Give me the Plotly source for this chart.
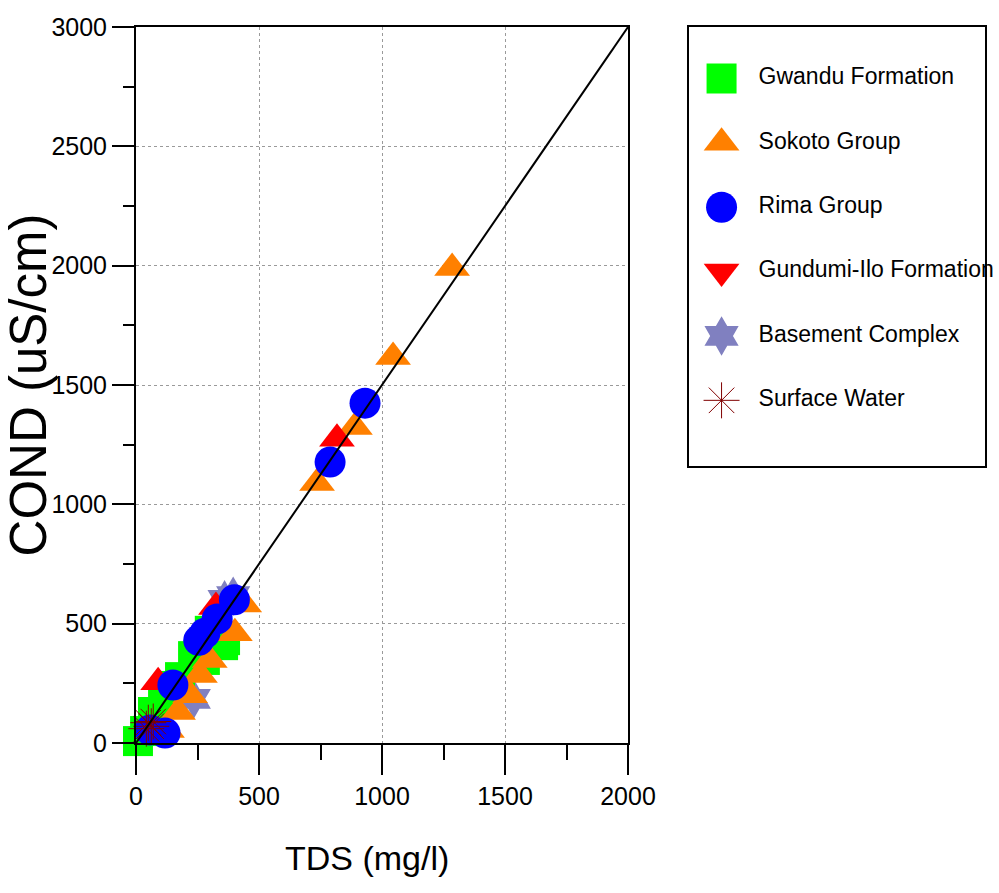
import plotly.graph_objects as go

# ---------------- data ----------------
series_names = ["Gwandu Formation", "Sokoto Group", "Rima Group",
                "Gundumi-Ilo Formation", "Basement Complex", "Surface Water"]

gwandu_tds = [4, 8, 37, 69, 110, 142, 179, 232, 280, 300, 354, 362]
gwandu_cond = [-8, 8, 50, 130, 172, 239, 276, 364, 348, 470, 410, 431]

sokoto_tds = [1285, 1045, 890, 736, 440, 402, 300, 260, 220, 171, 126, 57, 16]
sokoto_cond = [1990, 1617, 1324, 1089, 580, 460, 348, 285, 200, 130, 54, -29, -38]

rima_tds = [931, 789, 400, 330, 280, 255, 150, 57, 118]
rima_cond = [1424, 1177, 600, 520, 460, 430, 243, 54, 42]

gundumi_tds = [817, 325, 90]
gundumi_cond = [1275, 570, 255]

basement_tds = [395, 360, 235]
basement_cond = [615, 600, 185]

surface_tds = [50, 62, 42, 70]
surface_cond = [85, 70, 60, 90]

line_tds = [0, 2000]
line_cond = [0, 3000]

x_ticks = [0, 500, 1000, 1500, 2000]
y_ticks = [0, 500, 1000, 1500, 2000, 2500, 3000]

# ---------------- styling ----------------
FONT = "Liberation Sans, Arial, sans-serif"

colors = ["#00FF00", "#FF8000", "#0000FF", "#FF0000", "#8080C0", "#800000"]
plot_symbols = ["square", "triangle-up", "circle", "triangle-up", "hexagram", "asterisk-open"]
key_symbols = ["square", "triangle-up", "circle", "triangle-down", "hexagram", "asterisk-open"]
sizes = [30, 31, 31, 31, 30, 30]

data = {
    0: (gwandu_tds, gwandu_cond),
    1: (sokoto_tds, sokoto_cond),
    2: (rima_tds, rima_cond),
    3: (gundumi_tds, gundumi_cond),
    4: (basement_tds, basement_cond),
    5: (surface_tds, surface_cond),
}
draw_order = [4, 0, 1, 3, 2, 5]

fig = go.Figure()


def marker_for(i, symbol):
    line = dict(width=1, color=colors[i]) if "open" in symbol else dict(width=0)
    return dict(symbol=symbol, color=colors[i], size=sizes[i], line=line)


for i in draw_order:
    x, y = data[i]
    fig.add_trace(go.Scatter(x=x, y=y, mode="markers", name=series_names[i],
                             marker=marker_for(i, plot_symbols[i]),
                             cliponaxis=False, showlegend=False,
                             xaxis="x", yaxis="y"))

fig.add_trace(go.Scatter(x=line_tds, y=line_cond, mode="lines",
                         line=dict(color="black", width=2), showlegend=False,
                         hoverinfo="skip", xaxis="x", yaxis="y"))

# ---------------- key (legend box) drawn in its own small axes ----------------
rows = list(range(len(series_names)))
for i in rows:
    fig.add_trace(go.Scatter(x=[0.11], y=[i], mode="markers", name=series_names[i],
                             marker=marker_for(i, key_symbols[i]),
                             showlegend=False, hoverinfo="skip",
                             xaxis="x2", yaxis="y2"))
fig.add_trace(go.Scatter(x=[0.235] * len(rows), y=rows, mode="text",
                         text=series_names, textposition="middle right",
                         textfont=dict(family=FONT, size=23, color="black"),
                         cliponaxis=False, showlegend=False, hoverinfo="skip",
                         xaxis="x2", yaxis="y2"))

W_PLOT = 999 - 136 - 14
main_frac = 492 / W_PLOT

axis_common = dict(
    showline=True, linecolor="black", linewidth=2, mirror=True,
    ticks="outside", tickwidth=2, tickcolor="black",
    showgrid=True, gridcolor="#9a9a9a", gridwidth=1, griddash="dot",
    zeroline=False,
    tickfont=dict(family=FONT, size=25, color="black"),
)

fig.update_layout(
    width=999, height=893,
    margin=dict(l=136, r=14, t=27, b=150, autoexpand=False),
    paper_bgcolor="white", plot_bgcolor="white",
    showlegend=False,
    xaxis=dict(domain=[0, main_frac], range=[0, 2000], tickvals=x_ticks, ticklen=30,
               minor=dict(dtick=250, ticks="outside", ticklen=15, tickwidth=2,
                          tickcolor="black", showgrid=False),
               anchor="y", **axis_common),
    yaxis=dict(domain=[0, 1], range=[0, 3000], tickvals=y_ticks, ticklen=22,
               minor=dict(dtick=250, ticks="outside", ticklen=11, tickwidth=2,
                          tickcolor="black", showgrid=False),
               title=dict(text="COND (uS/cm)", font=dict(family=FONT, size=51, color="black"),
                          standoff=12),
               anchor="x", **axis_common),
    xaxis2=dict(domain=[(689 - 136) / W_PLOT, (985 - 136) / W_PLOT], range=[0, 1],
                showline=True, mirror=True, linecolor="black", linewidth=2,
                showgrid=False, zeroline=False, showticklabels=False, ticks="",
                fixedrange=True, anchor="y2"),
    yaxis2=dict(domain=[(743 - 466) / 716, 1], range=[6.02, -0.8],
                showline=True, mirror=True, linecolor="black", linewidth=2,
                showgrid=False, zeroline=False, showticklabels=False, ticks="",
                fixedrange=True, anchor="x2"),
    annotations=[dict(text="TDS (mg/l)", xref="paper", yref="paper",
                      x=(367 - 136) / W_PLOT, y=(743 - 858) / 716,
                      xanchor="center", yanchor="middle", showarrow=False,
                      font=dict(family=FONT, size=34, color="black"))],
)

fig.write_html("out.html")
